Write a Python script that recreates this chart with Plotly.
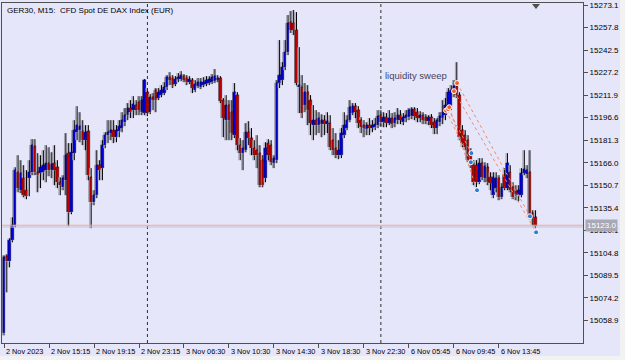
import plotly.graph_objects as go

# ---------------- data (M15 bars, index 0 = 2 Nov 2023 11:15) ----------------
open_ = [15050.1,15102.4,15099.0,15113.3,15123.5,15159.5,15147.3,15155.5,15147.3,15155.5,
15159.5,15177.2,15159.5,15158.9,15159.5,15160.9,15165.7,15160.9,15165.7,15162.9,
15152.7,15149.3,15154.1,15172.5,15132.3,15172.5,15186.7,15188.1,15187.4,15181.3,
15187.4,15156.1,15139.1,15143.9,15164.3,15162.3,15177.9,15184.7,15186.1,15188.1,
15183.3,15187.4,15189.5,15193.5,15198.3,15203.1,15201.7,15205.1,15207.1,15200.3,
15199.7,15213.9,15200.3,15210.5,15215.3,15209.9,15211.9,15213.3,15217.3,15224.1,
15223.5,15219.4,15222.8,15222.8,15224.8,15223.5,15220.7,15222.1,15215.3,15218.0,
15217.3,15218.7,15219.4,15220.1,15220.7,15221.4,15222.1,15223.5,15208.5,15194.9,
15205.1,15200.3,15184.7,15211.9,15177.9,15172.5,15174.5,15186.7,15182.7,15175.9,
15174.5,15172.5,15167.7,15155.5,15179.3,15177.9,15165.7,15167.7,15220.1,15222.1,
15230.9,15241.1,15261.5,15260.9,15256.1,15217.3,15217.3,15205.1,15213.9,15208.5,
15191.5,15194.9,15191.5,15192.2,15194.9,15192.2,15192.9,15181.3,15175.9,15171.1,
15171.1,15184.7,15189.5,15194.9,15199.7,15204.4,15201.7,15194.9,15191.5,15188.8,
15191.5,15189.5,15190.1,15191.5,15198.3,15193.5,15196.9,15192.9,15196.3,15192.9,
15194.9,15198.3,15193.5,15196.3,15196.9,15197.6,15202.4,15200.3,15196.3,15198.3,
15196.9,15194.2,15196.9,15193.5,15189.5,15193.5,15196.3,15198.3,15203.1,15203.7,
15213.9,15218.0,15211.9,15188.1,15184.7,15181.3,15173.1,15165.7,15164.3,15152.7,
15165.7,15155.5,15162.9,15156.1,15143.9,15148.7,15155.5,15142.5,15157.5,15148.7,
15159.5,15149.3,15147.3,15143.9,15143.9,15158.9,15158.2,15159.5,15131.7,15128.9]

high = [15103.1,15103.8,15114.7,15128.9,15162.9,15171.1,15167.7,15164.3,15160.9,15167.7,
15182.0,15182.0,15172.5,15171.1,15174.5,15177.9,15176.5,15173.1,15177.9,15167.7,
15156.1,15157.5,15186.1,15179.3,15179.3,15194.9,15204.4,15200.3,15194.9,15191.5,
15191.5,15162.3,15147.3,15174.5,15167.7,15181.3,15186.7,15194.9,15194.9,15194.9,
15191.5,15194.9,15200.3,15203.1,15206.5,15208.5,15211.2,15208.5,15211.2,15211.2,
15222.8,15216.7,15212.6,15213.3,15216.7,15216.7,15218.7,15220.7,15225.5,15227.5,
15225.5,15224.8,15226.9,15228.2,15226.2,15225.5,15224.8,15223.5,15222.1,15223.5,
15223.5,15224.1,15224.8,15224.8,15226.2,15229.6,15225.5,15224.8,15209.9,15211.9,
15208.5,15208.5,15220.1,15213.9,15182.7,15181.3,15192.9,15194.2,15189.5,15181.3,
15184.7,15177.9,15171.1,15179.9,15182.0,15181.3,15171.1,15222.1,15249.3,15234.3,
15249.3,15266.3,15269.0,15269.7,15268.3,15244.5,15225.5,15220.1,15218.7,15211.9,
15205.1,15201.7,15200.3,15198.9,15198.3,15200.3,15198.3,15189.5,15186.1,15181.3,
15189.5,15200.3,15198.3,15208.5,15206.5,15206.5,15204.4,15196.9,15194.9,15193.5,
15196.3,15194.9,15196.3,15201.7,15201.7,15200.3,15199.7,15201.7,15199.7,15200.3,
15203.1,15201.7,15199.7,15201.7,15203.1,15203.7,15203.7,15203.1,15201.0,15200.3,
15199.0,15198.3,15199.0,15196.3,15196.3,15200.3,15208.5,15209.9,15216.7,15218.7,
15222.1,15234.3,15213.9,15191.5,15188.1,15184.7,15175.9,15167.7,15167.7,15169.1,
15169.1,15166.3,15165.7,15159.5,15159.5,15159.5,15157.5,15152.1,15162.3,15172.5,
15164.3,15152.7,15150.7,15150.7,15162.3,15174.5,15164.3,15174.5,15133.7,15133.7]

low = [15048.7,15077.9,15094.9,15111.9,15122.1,15145.9,15145.3,15142.5,15141.2,15143.2,
15157.5,15157.5,15145.9,15148.7,15154.1,15152.7,15156.8,15155.5,15150.7,15148.7,
15143.9,15147.3,15143.9,15122.8,15131.0,15167.7,15181.3,15179.9,15177.9,15174.5,
15154.1,15121.5,15137.1,15141.9,15154.1,15154.1,15175.9,15179.3,15181.3,15179.3,
15179.9,15183.3,15186.7,15190.8,15194.9,15196.3,15196.3,15198.3,15198.3,15198.3,
15198.3,15197.6,15199.0,15201.7,15200.3,15208.5,15210.5,15211.9,15215.3,15218.7,
15216.7,15218.0,15220.7,15221.4,15220.7,15218.7,15219.4,15213.3,15213.9,15216.7,
15216.0,15217.3,15218.0,15218.7,15219.4,15220.1,15220.7,15206.5,15183.3,15181.3,
15181.3,15181.3,15182.7,15174.5,15167.7,15160.9,15173.1,15177.9,15171.1,15167.7,
15162.3,15149.3,15149.3,15152.7,15167.7,15164.3,15162.3,15165.7,15216.7,15218.7,
15228.9,15239.1,15254.1,15252.7,15218.7,15199.7,15196.3,15200.3,15191.5,15184.7,
15181.3,15184.7,15186.1,15183.3,15184.7,15186.1,15174.5,15171.1,15169.1,15168.4,
15169.1,15182.7,15188.1,15193.5,15198.3,15196.3,15189.5,15186.1,15183.3,15184.7,
15184.7,15186.7,15188.1,15189.5,15190.8,15190.1,15190.1,15191.5,15189.5,15190.1,
15192.2,15192.2,15191.5,15193.5,15194.9,15195.6,15194.9,15193.5,15193.5,15192.2,
15192.2,15191.5,15189.5,15185.4,15185.4,15190.8,15192.2,15194.9,15200.3,15201.7,
15210.5,15209.9,15181.3,15176.5,15174.5,15166.3,15162.3,15150.7,15149.3,15151.4,
15154.1,15152.7,15150.7,15147.3,15141.9,15145.9,15140.5,15141.2,15147.3,15147.3,
15145.9,15141.2,15140.5,15139.8,15142.5,15157.5,15155.5,15127.6,15123.5,15121.5]

close = [15101.7,15099.0,15113.3,15123.5,15160.9,15148.7,15158.9,15143.9,15143.2,15159.5,
15177.9,15159.5,15157.5,15162.9,15164.3,15165.7,15160.9,15165.0,15160.9,15152.7,
15150.7,15155.5,15171.1,15132.3,15173.1,15188.1,15191.5,15190.8,15181.3,15186.7,
15157.5,15139.1,15143.9,15164.3,15160.9,15177.9,15184.7,15186.7,15188.1,15183.3,
15188.1,15190.8,15194.9,15198.3,15203.1,15200.3,15205.8,15201.7,15201.7,15208.5,
15222.1,15199.7,15210.5,15208.5,15208.5,15213.9,15215.3,15217.3,15224.1,15222.1,
15218.7,15222.8,15224.1,15225.5,15222.1,15220.7,15222.8,15216.7,15219.4,15220.7,
15220.7,15220.7,15222.1,15222.8,15224.1,15224.8,15223.5,15207.8,15196.3,15205.1,
15194.9,15186.1,15213.9,15177.9,15172.5,15175.9,15186.7,15182.7,15175.9,15171.1,
15171.1,15150.7,15150.7,15175.9,15171.1,15166.3,15169.1,15220.1,15225.5,15230.9,
15241.1,15260.9,15256.1,15256.1,15220.1,15218.7,15199.7,15213.9,15201.7,15192.9,
15194.9,15191.5,15196.3,15194.9,15192.2,15194.2,15176.5,15174.5,15171.1,15174.5,
15186.1,15191.5,15194.9,15203.7,15204.4,15200.3,15192.9,15190.1,15189.5,15191.5,
15189.5,15191.5,15192.2,15197.6,15193.5,15196.9,15192.9,15196.3,15192.2,15196.3,
15198.3,15194.9,15196.9,15198.3,15201.7,15202.4,15197.6,15196.3,15198.3,15194.9,
15194.2,15196.9,15191.5,15189.5,15194.9,15197.6,15200.3,15205.1,15213.9,15215.3,
15218.0,15211.9,15183.3,15179.3,15176.5,15167.7,15164.3,15152.7,15152.7,15165.7,
15156.1,15163.6,15152.7,15152.1,15156.1,15155.5,15142.5,15149.3,15148.7,15165.7,
15147.3,15142.5,15144.6,15147.3,15158.9,15161.6,15160.9,15128.9,15128.2,15123.0]

tick_idx = [0, 16, 32, 48, 64, 80, 96, 112, 128, 144, 160, 176]
tick_labels = ["2 Nov 2023", "2 Nov 15:15", "2 Nov 19:15", "2 Nov 23:15",
               "3 Nov 06:30", "3 Nov 10:30", "3 Nov 14:30", "3 Nov 18:30",
               "3 Nov 22:30", "6 Nov 05:45", "6 Nov 09:45", "6 Nov 13:45"]
day_start_idx = [51, 134]

y_ticks = [15273.1, 15257.8, 15242.5, 15227.2, 15211.9, 15196.6, 15181.3, 15166.0,
           15150.7, 15135.4, 15120.1, 15104.8, 15089.5, 15074.2, 15058.9]

# trades (short entries -> exits)
entry_idx = [157.2, 157.9, 158.3, 160.0, 161.1]
entry_price = [15201.4, 15202.4, 15203.7, 15214.6, 15220.1]
exit_idx = [166.0, 166.2, 168.2, 189.2, 187.0]
exit_price = [15166.3, 15172.5, 15147.3, 15118.7, 15129.6]

note_text = "liquidity sweep"
note_idx, note_price = 134.6, 15225.5
title_text = "GER30, M15:  CFD Spot DE DAX Index (EUR)"

# ---------------- build ----------------
FONT = "Liberation Sans"
BG = "#E6E6FA"
n = len(close)
idx = list(range(n))
GHOST = 0.5

def wick_xy(shift):
    xs, ys = [], []
    for i in idx:
        top = max(open_[i], close[i])
        bot = min(open_[i], close[i])
        x = i - shift
        xs += [x, x, None, x, x, None]
        ys += [high[i], top, None, bot, low[i], None]
    return xs, ys

def bodies(sel, shift):
    xs = [i - shift for i in sel]
    base = [min(open_[i], close[i]) for i in sel]
    h = [max(abs(close[i] - open_[i]), 0.7) for i in sel]
    return xs, base, h

fig = go.Figure()

# grey shadow candles
gx, gy = wick_xy(GHOST)
fig.add_trace(go.Scatter(x=gx, y=gy, mode="lines", line=dict(color="#a0a0b0", width=1),
                         hoverinfo="skip"))
bx, bb, bh = bodies(idx, GHOST)
fig.add_trace(go.Bar(x=bx, y=bh, base=bb, width=0.7,
                     marker=dict(color="#a8a8b8", line=dict(width=0)), hoverinfo="skip"))

# main candles
wx, wy = wick_xy(0)
fig.add_trace(go.Scatter(x=wx, y=wy, mode="lines", line=dict(color="#000000", width=1),
                         hoverinfo="skip"))
bull = [i for i in idx if close[i] >= open_[i]]
bear = [i for i in idx if close[i] < open_[i]]
for sel, col in ((bull, "#0000DC"), (bear, "#BE0000")):
    x_, b_, h_ = bodies(sel, 0)
    fig.add_trace(go.Bar(x=x_, y=h_, base=b_, width=0.85,
                         marker=dict(color=col, line=dict(color="#000000", width=0.35))))

# trade lines
for ei, ep, xi, xp in zip(entry_idx, entry_price, exit_idx, exit_price):
    fig.add_trace(go.Scatter(x=[ei, xi], y=[ep, xp], mode="lines",
                             line=dict(color="#F08A6A", width=1, dash="dot"), hoverinfo="skip"))
fig.add_trace(go.Scatter(x=entry_idx, y=entry_price, mode="markers",
                         marker=dict(symbol="circle", size=5, color="#F0602A",
                                     line=dict(color="white", width=1))))
fig.add_trace(go.Scatter(x=exit_idx, y=exit_price, mode="markers",
                         marker=dict(symbol="circle", size=5, color="#2F7CD0",
                                     line=dict(color="white", width=1))))

shapes = []
for d in day_start_idx:
    shapes.append(dict(type="line", xref="x", yref="paper", x0=d, x1=d, y0=0, y1=1,
                       line=dict(color="#303030", width=1, dash="dot")))
last = close[-1]
shapes.append(dict(type="line", xref="paper", yref="y", x0=0, x1=1, y0=last + 0.5, y1=last + 0.5,
                   line=dict(color="#F8A888", width=1)))
shapes.append(dict(type="line", xref="paper", yref="y", x0=0, x1=1, y0=last - 0.7, y1=last - 0.7,
                   line=dict(color="#C4C4D8", width=1)))
# chart-shift marker
shapes.append(dict(type="path", xref="paper", yref="paper",
                   path="M 0.9122 0.997 L 0.9260 0.997 L 0.9191 0.982 Z",
                   fillcolor="#505050", line=dict(width=0)))
# window border strips
shapes.append(dict(type="rect", xref="paper", yref="paper", x0=1.0637, x1=1.08, y0=-0.06, y1=1.02,
                   fillcolor="#F2F2F2", line=dict(width=0), layer="below"))
shapes.append(dict(type="rect", xref="paper", yref="paper", x0=-0.01, x1=1.08, y0=-0.06, y1=-0.0385,
                   fillcolor="#F2F2F2", line=dict(width=0), layer="below"))

annotations = [
    dict(text=title_text, xref="paper", yref="paper", x=0, y=1, xanchor="left", yanchor="top",
         xshift=3, yshift=-1, showarrow=False, font=dict(family=FONT, size=8, color="#000000")),
    dict(text=note_text, xref="x", yref="y", x=note_idx, y=note_price, xanchor="left",
         yanchor="middle", showarrow=False, font=dict(family=FONT, size=9.5, color="#44445e")),
    dict(text=f"{last:.1f}", xref="paper", yref="y", x=1, y=last, xanchor="left", yanchor="middle",
         xshift=2, showarrow=False, bgcolor="#A8A8B6", borderpad=1,
         font=dict(family=FONT, size=8, color="#ffffff")),
]
for ti, tl in zip(tick_idx, tick_labels):
    annotations.append(dict(text=tl, xref="x", yref="paper", x=ti, y=0, xanchor="left",
                            yanchor="top", xshift=0, yshift=-2, showarrow=False,
                            font=dict(family=FONT, size=7.3, color="#000000")))

fig.update_layout(
    width=625, height=360,
    margin=dict(l=2, r=42, t=3, b=17),
    paper_bgcolor=BG, plot_bgcolor=BG,
    showlegend=False, barmode="overlay", bargap=0,
    shapes=shapes, annotations=annotations,
    font=dict(family=FONT, size=8, color="#000000"),
    xaxis=dict(range=[-0.71, 205.87], showgrid=False, zeroline=False, showline=True, mirror=True,
               linecolor="#505050", linewidth=1, ticks="outside", ticklen=4, tickcolor="#505050",
               tickvals=tick_idx, showticklabels=False, fixedrange=True),
    yaxis=dict(range=[15043.5, 15274.5], side="right", showgrid=False, zeroline=False,
               showline=True, mirror=True, linecolor="#505050", linewidth=1,
               ticks="outside", ticklen=4, tickcolor="#505050",
               tickvals=y_ticks, ticktext=[f"{v:.1f}" for v in y_ticks],
               tickfont=dict(family=FONT, size=8, color="#000000"), fixedrange=True),
)

fig.write_html("out.html")
